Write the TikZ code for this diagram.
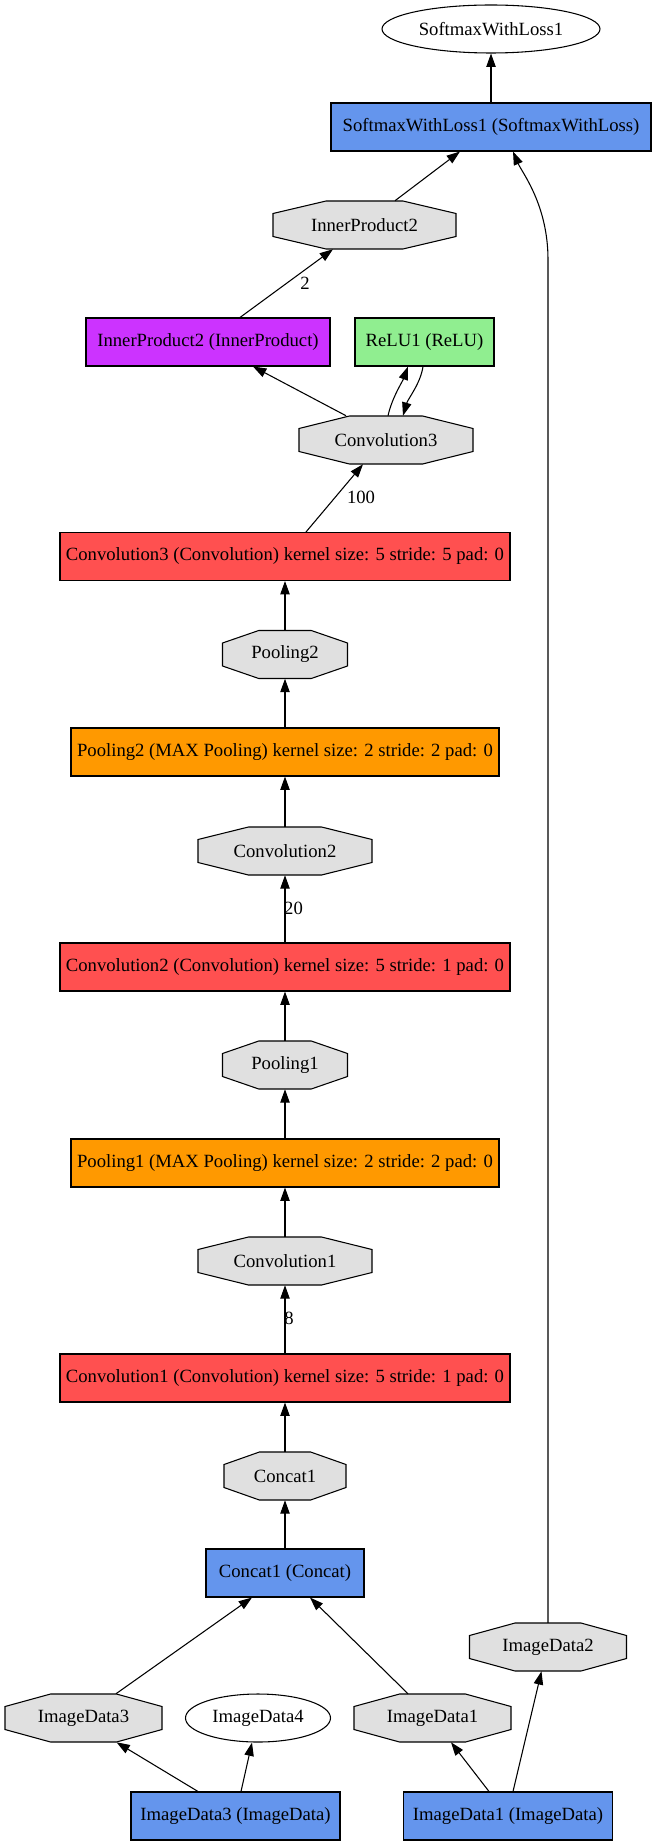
\documentclass[tikz,border=0pt]{standalone}
\usepackage{fontspec}
\setmainfont{Liberation Serif}
\usetikzlibrary{arrows.meta,shapes.geometric,calc}

\definecolor{blobgray}{HTML}{E0E0E0}
\definecolor{layerblue}{HTML}{6495ED}
\definecolor{convred}{HTML}{FF5050}
\definecolor{poolorange}{HTML}{FF9900}
\definecolor{ipmagenta}{HTML}{CC33FF}
\definecolor{relugreen}{HTML}{90EE90}

% octagonal blob: name, x, y, width, label
\newcommand\blobnode[5]{%
  \filldraw[blobshape]
    (#2-0.21*#4,#3-24) -- (#2+0.21*#4,#3-24) -- (#2+#4/2,#3-11.5) -- (#2+#4/2,#3+11.5)
    -- (#2+0.21*#4,#3+24) -- (#2-0.21*#4,#3+24) -- (#2-#4/2,#3+11.5) -- (#2-#4/2,#3-11.5) -- cycle;
  \node[blobtext, minimum width=#4*0.75pt] (#1) at (#2,#3) {#5};
}

\tikzset{
  every node/.style={font=\fontsize{14}{16}\selectfont, inner sep=0pt},
  layer/.style={rectangle, draw=black, line width=0.8pt, minimum height=36pt, minimum width=#1*0.75pt},
  blobshape/.style={fill=blobgray, draw=black, line width=0.8pt},
  blobtext/.style={rectangle, minimum height=36pt},
  datum/.style={ellipse, draw=black, line width=0.8pt, fill=white, minimum height=36pt, minimum width=#1*0.75pt},
  flow/.style={line width=0.8pt, -{Triangle[length=10pt,width=7pt]}},
}

\begin{document}
\begin{tikzpicture}[x=0.75pt,y=-0.75pt]
  \useasboundingbox (0,0) rectangle (657,1847);

  % layers and blobs, top to bottom
  \node[datum=218] (swlout) at (491,29) {SoftmaxWithLoss1};
  \node[layer=320, fill=layerblue] (swl) at (491,127) {SoftmaxWithLoss1 (SoftmaxWithLoss)};
  \blobnode{ip2}{364.5}{225}{183}{InnerProduct2}
  \node[layer=244, fill=ipmagenta] (ip2box) at (208,342) {InnerProduct2 (InnerProduct)};
  \node[layer=139, fill=relugreen] (relu) at (424.5,342) {ReLU1 (ReLU)};
  \blobnode{conv3}{386}{440}{174}{Convolution3}
  \node[layer=450, fill=convred] (conv3box) at (285,556.5) {Convolution3 (Convolution) kernel size: 5 stride: 5 pad: 0};
  \blobnode{pool2}{285}{654.5}{125}{Pooling2}
  \node[layer=428, fill=poolorange] (pool2box) at (285,752) {Pooling2 (MAX Pooling) kernel size: 2 stride: 2 pad: 0};
  \blobnode{conv2}{285}{851}{174}{Convolution2}
  \node[layer=450, fill=convred] (conv2box) at (285,967) {Convolution2 (Convolution) kernel size: 5 stride: 1 pad: 0};
  \blobnode{pool1}{285}{1065}{125}{Pooling1}
  \node[layer=428, fill=poolorange] (pool1box) at (285,1163) {Pooling1 (MAX Pooling) kernel size: 2 stride: 2 pad: 0};
  \blobnode{conv1}{285}{1261}{174}{Convolution1}
  \node[layer=450, fill=convred] (conv1box) at (285,1378) {Convolution1 (Convolution) kernel size: 5 stride: 1 pad: 0};
  \blobnode{concat}{285}{1476}{122}{Concat1}
  \node[layer=158, fill=layerblue] (concatbox) at (285,1573) {Concat1 (Concat)};
  \blobnode{id2}{548}{1647}{157}{ImageData2}
  \blobnode{id3}{83.5}{1718}{157}{ImageData3}
  \node[datum=145] (id4) at (258,1718) {ImageData4};
  \blobnode{id1}{432.5}{1718}{157}{ImageData1}
  \node[layer=209, fill=layerblue] (id3box) at (235.5,1816) {ImageData3 (ImageData)};
  \node[layer=209, fill=layerblue] (id1box) at (508,1816) {ImageData1 (ImageData)};

  % connectors
  \draw[flow] (swl) -- (swlout);
  \draw[flow] ($(ip2.north)+(30.5,0)$) -- ($(swl.south)+(-31,0)$);
  \draw[flow] (id2.north) -- ($(id2.north)+(0,-1363)$)
    .. controls ($(id2.north)+(0,-1418)$) and ($(swl.south)+(31,21)$) .. ($(swl.south)+(22,0)$);
  \draw[flow] ($(ip2box.north)+(32,0)$) -- ($(ip2.south)+(-31.5,0)$);
  \draw[flow] ($(conv3.north)+(-40,0)$) -- ($(ip2box.south)+(45,0)$);
  \draw[flow] ($(conv3.north)+(2,0)$) .. controls ($(conv3.north)+(6,-18)$) and ($(relu.south)+(-22,15)$) .. ($(relu.south)+(-16.5,0)$);
  \draw[flow] ($(relu.south)+(-1.5,0)$) .. controls ($(relu.south)+(-4,17)$) and ($(conv3.north)+(22,-17)$) .. ($(conv3.north)+(17,0)$);
  \draw[flow] ($(conv3box.north)+(21,0)$) -- ($(conv3.south)+(-23,0)$);
  \draw[flow] (pool2) -- (conv3box);
  \draw[flow] (pool2box) -- (pool2);
  \draw[flow] (conv2) -- (pool2box);
  \draw[flow] (conv2box) -- (conv2);
  \draw[flow] (pool1) -- (conv2box);
  \draw[flow] (pool1box) -- (pool1);
  \draw[flow] (conv1) -- (pool1box);
  \draw[flow] (conv1box) -- (conv1);
  \draw[flow] (concat) -- (conv1box);
  \draw[flow] (concatbox) -- (concat);
  \draw[flow] ($(id3.north)+(32.5,0)$) -- ($(concatbox.south)+(-33,0)$);
  \draw[flow] ($(id1.north)+(-24.5,0)$) -- ($(concatbox.south)+(25,0)$);
  \draw[flow] ($(id3box.north)+(-37.5,0)$) -- ($(id3.south)+(33,0)$);
  \draw[flow] ($(id3box.north)+(5.5,0)$) -- ($(id4.south)+(-6,0)$);
  \draw[flow] ($(id1box.north)+(-19,0)$) -- ($(id1.south)+(18.5,0)$);
  \draw[flow] ($(id1box.north)+(5,0)$) -- ($(id2.south)+(-6.5,0)$);

  % blob counts on edges
  \node (cnt2) at (305,283) {2};
  \node (cnt100) at (361,497) {100};
  \node (cnt20) at (293.5,908) {20};
  \node (cnt8) at (289,1318) {8};
\end{tikzpicture}
\end{document}
